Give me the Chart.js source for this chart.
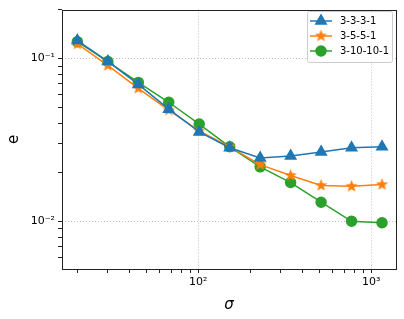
<!DOCTYPE html>
<html lang="en">
  <head>
    <meta charset="UTF-8" />
    <title>error vs sigma</title>
    <style>
      html, body { margin: 0; padding: 0; background: #fff; }
      #wrap { width: 404px; height: 319px; }
    </style>
  </head>
  <body>
    <div id="wrap"><canvas id="myChart" width="404" height="319"></canvas></div>
    <script src="https://cdn.jsdelivr.net/npm/chart.js@4/dist/chart.umd.min.js"></script>
    <script>
      // data
      const sigma = [20, 30, 45, 67.5, 101.25, 151.9, 227.8, 341.7, 512.6, 768.9, 1153.3];
      const err_3331 = [0.129, 0.096, 0.0694, 0.0489, 0.0354, 0.0283, 0.0245, 0.0252, 0.0267, 0.0283, 0.0287];
      const err_3551 = [0.123, 0.0907, 0.0656, 0.0482, 0.0359, 0.0287, 0.0223, 0.0191, 0.0166, 0.0164, 0.0168];
      const err_310101 = [0.127, 0.0959, 0.0714, 0.0539, 0.0396, 0.0287, 0.0216, 0.0173, 0.0131, 0.0100, 0.0098];
      const seriesNames = ["3-3-3-1", "3-5-5-1", "3-10-10-1"];

      const xTicks = [20, 30, 40, 50, 60, 70, 80, 90, 100, 200, 300, 400, 500, 600, 700, 800, 900, 1000];
      const yTicks = [0.006, 0.007, 0.008, 0.009, 0.01, 0.02, 0.03, 0.04, 0.05, 0.06, 0.07, 0.08, 0.09, 0.1, 0.2];
      const majorLabels = { "0.01": "10\u207B\u00B2", "0.1": "10\u207B\u00B9", "100": "10\u00B2", "1000": "10\u00B3" };

      const COLORS = { blue: "#1f77b4", orange: "#ff7f0e", green: "#2ca02c" };

      // filled star like matplotlib "*"
      function makeStar(color, r) {
        const c = document.createElement("canvas");
        const s = Math.ceil(r * 2 + 2);
        c.width = s;
        c.height = s;
        const g = c.getContext("2d");
        g.beginPath();
        for (let i = 0; i < 10; i++) {
          const rad = i % 2 == 0 ? r : r * 0.42;
          const a = -Math.PI / 2 + (i * Math.PI) / 5;
          g.lineTo(s / 2 + rad * Math.cos(a), s / 2 + rad * Math.sin(a));
        }
        g.closePath();
        g.fillStyle = color;
        g.fill();
        return c;
      }
      const starImg = makeStar(COLORS.orange, 6.5);

      function isMajor(v) {
        const l = Math.log10(v);
        return Math.abs(l - Math.round(l)) < 1e-9;
      }
      function tickLabel(v) {
        return majorLabels[String(v)] || "";
      }

      const gridOpts = {
        color: (c) => (c.tick && isMajor(c.tick.value) ? "#b0b0b0" : "rgba(0,0,0,0)"),
        lineWidth: 0.8,
        tickColor: "#222",
        tickLength: 4,
        tickWidth: 1,
      };

      const framePlugin = {
        id: "frame",
        afterDraw(chart) {
          const a = chart.chartArea;
          const ctx = chart.ctx;
          ctx.save();
          ctx.strokeStyle = "#222";
          ctx.lineWidth = 1;
          ctx.strokeRect(Math.round(a.left) + 0.5, Math.round(a.top) + 0.5, Math.round(a.right - a.left), Math.round(a.bottom - a.top));

          // legend, matplotlib style, upper right inside axes
          const bx = 307.5, by = 11.5, bw = 85, bh = 51;
          ctx.fillStyle = "rgba(255,255,255,0.8)";
          ctx.strokeStyle = "#cccccc";
          ctx.beginPath();
          ctx.roundRect(bx, by, bw, bh, 2);
          ctx.fill();
          ctx.stroke();
          ctx.font = "10px 'DejaVu Sans'";
          ctx.textBaseline = "middle";
          chart.data.datasets.forEach((ds, i) => {
            const y = 21 + i * 15;
            ctx.strokeStyle = ds.borderColor;
            ctx.lineWidth = 1.5;
            ctx.beginPath();
            ctx.moveTo(310, y);
            ctx.lineTo(332, y);
            ctx.stroke();
            const style = ds.pointStyle;
            if (style instanceof HTMLCanvasElement) {
              ctx.drawImage(style, 321 - style.width / 2, y - style.height / 2);
            } else {
              Chart.helpers.drawPoint(ctx, { pointStyle: style, radius: ds.pointRadius, borderWidth: 1 }, 321, y);
              ctx.fillStyle = ds.backgroundColor;
              ctx.strokeStyle = ds.borderColor;
              ctx.fill();
            }
            ctx.fillStyle = "#000";
            ctx.fillText(ds.label, 340, y);
          });
          ctx.restore();
        },
      };

      function toPoints(arr) {
        return arr.map((v, i) => ({ x: sigma[i], y: v }));
      }

      const ctx = document.getElementById("myChart");
      const myChart = new Chart(ctx, {
        type: "line",
        data: {
          datasets: [
            {
              label: seriesNames[0],
              data: toPoints(err_3331),
              borderColor: COLORS.blue,
              backgroundColor: COLORS.blue,
              pointStyle: "triangle",
              pointRadius: 6,
              borderWidth: 1.5,
            },
            {
              label: seriesNames[1],
              data: toPoints(err_3551),
              borderColor: COLORS.orange,
              backgroundColor: COLORS.orange,
              pointStyle: starImg,
              pointRadius: 6,
              borderWidth: 1.5,
            },
            {
              label: seriesNames[2],
              data: toPoints(err_310101),
              borderColor: COLORS.green,
              backgroundColor: COLORS.green,
              pointStyle: "circle",
              pointRadius: 5,
              borderWidth: 1.5,
            },
          ],
        },
        options: {
          responsive: false,
          animation: false,
          devicePixelRatio: 1,
          layout: { padding: { top: 6, right: 8, left: 0, bottom: 0 } },
          plugins: {
            legend: { display: false },
            tooltip: { enabled: false },
          },
          elements: { line: { tension: 0 } },
          scales: {
            x: {
              type: "logarithmic",
              min: 16.3,
              max: 1389,
              afterBuildTicks: (s) => {
                s.ticks = xTicks.map((v) => ({ value: v }));
              },
              afterFit: (s) => {
                s.height = 50;
              },
              ticks: {
                autoSkip: false,
                maxRotation: 0,
                padding: 3,
                color: "#000",
                font: { family: "'DejaVu Sans'", size: 11 },
                callback: (v) => tickLabel(v),
              },
              grid: gridOpts,
              border: { display: false, dash: [1, 2] },
              title: {
                display: true,
                text: "\u03C3",
                color: "#000",
                font: { family: "'DejaVu Sans'", size: 15, style: "italic" },
                padding: { top: 0, bottom: 5 },
              },
            },
            y: {
              type: "logarithmic",
              min: 0.00509,
              max: 0.2,
              afterBuildTicks: (s) => {
                s.ticks = yTicks.map((v) => ({ value: v }));
              },
              afterFit: (s) => {
                s.width = 62;
              },
              ticks: {
                autoSkip: false,
                padding: 3,
                color: "#000",
                font: { family: "'DejaVu Sans'", size: 11 },
                callback: (v) => tickLabel(v),
              },
              grid: gridOpts,
              border: { display: false, dash: [1, 2] },
              title: {
                display: true,
                text: "e",
                color: "#000",
                font: { family: "'DejaVu Sans'", size: 15 },
                padding: { top: 5, bottom: 0 },
              },
            },
          },
        },
        plugins: [framePlugin],
      });
    </script>
  </body>
</html>
